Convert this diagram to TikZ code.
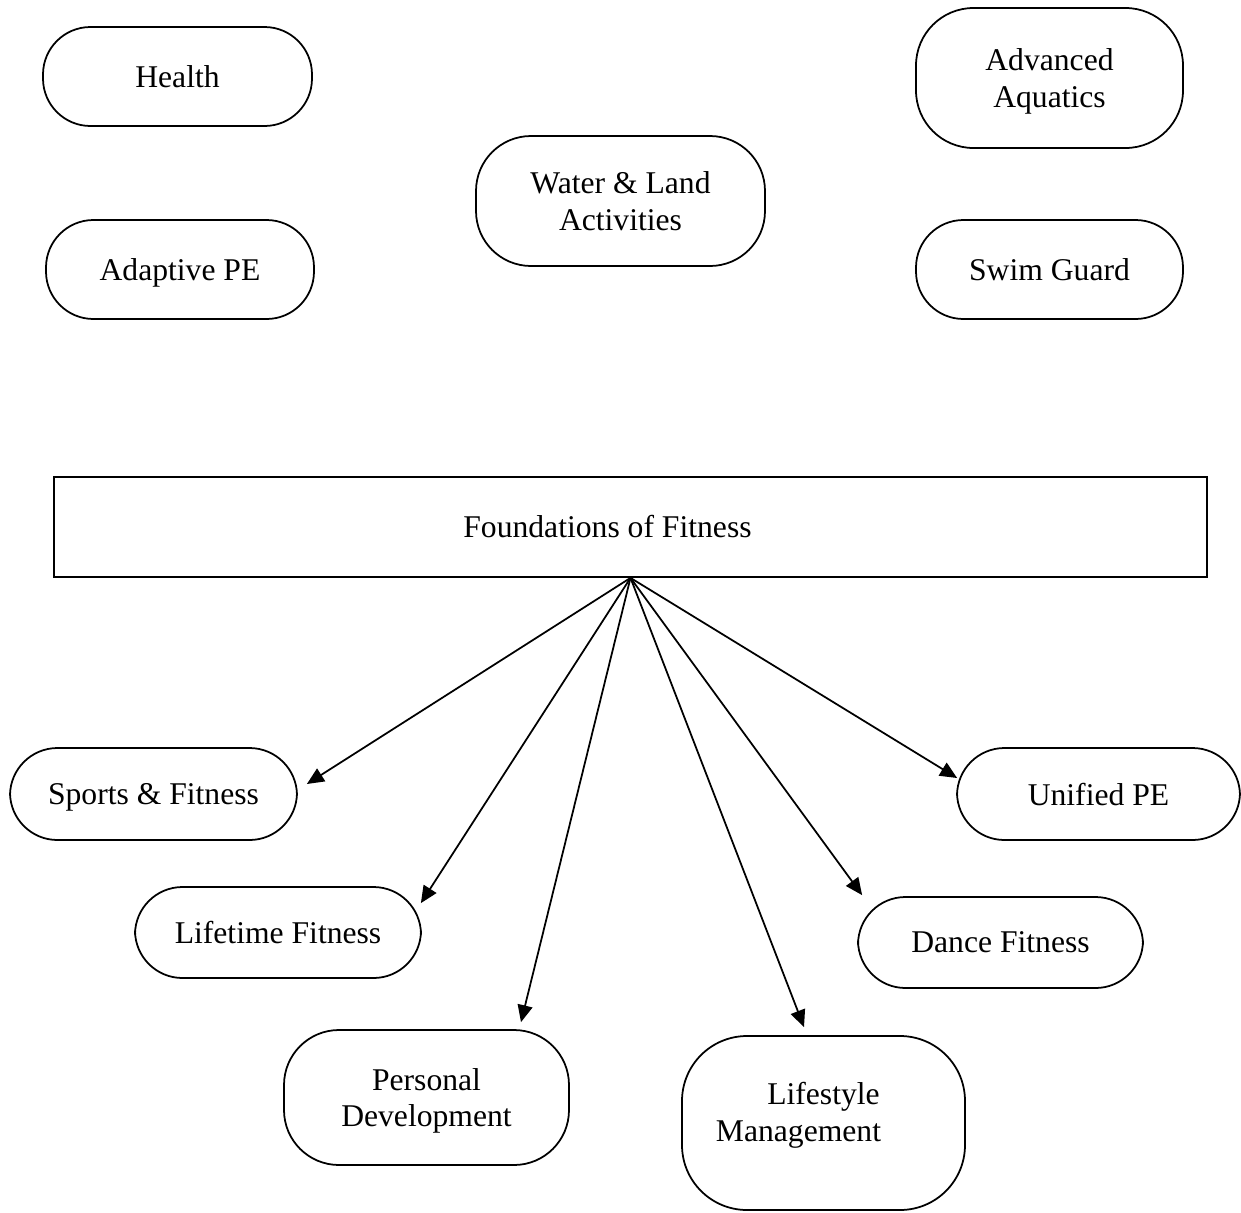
\documentclass[tikz,border=0pt]{standalone}
\usepackage{fontspec}
\setmainfont{Liberation Serif}
\usetikzlibrary{arrows.meta, calc}

\begin{document}
\begin{tikzpicture}[
		font=\fontsize{18}{21}\selectfont,
		% Style for the rounded course boxes
		course/.style={
			draw, line width=1pt, rounded corners=0.95cm,
			align=center, inner sep=2pt, text depth=0pt,
			minimum width=5.4cm, minimum height=1.98cm
		},
		% Style for the core course
		core/.style={draw, line width=1pt, minimum width=23.06cm, minimum height=2cm},
		% Arrows out of the core course
		link/.style={line width=1pt, -{Triangle[length=0.34cm, width=0.3cm]}}
		]
		\useasboundingbox (0,0) rectangle (24.82,-24.24);

		% Upper courses
		\node[course, minimum width=5.38cm] (health) at (3.55,-1.53) {Health};
		\node[course, minimum width=5.36cm] (adaptive) at (3.60,-5.39) {Adaptive PE};
		\node[course, minimum width=5.78cm, minimum height=2.6cm, rounded corners=1.1cm] (waterland) at (12.41,-4.02) {Water \& Land\\Activities};
		\node[course, minimum width=5.34cm, minimum height=2.8cm, rounded corners=1.15cm] (aquatics) at (20.99,-1.56) {Advanced\\Aquatics};
		\node[course, minimum width=5.34cm] (swimguard) at (20.99,-5.39) {Swim Guard};

		% Core course
		\node[core] (fof) at (12.61,-10.54) {Foundations of Fitness\hspace*{0.92cm}};

		% Lower courses
		\node[course, minimum width=5.74cm, minimum height=1.84cm] (sports) at (3.07,-15.88) {Sports \& Fitness};
		\node[course, minimum width=5.66cm, minimum height=1.84cm] (unified) at (21.97,-15.88) {Unified PE};
		\node[course, minimum width=5.72cm, minimum height=1.82cm] (lifetime) at (5.56,-18.65) {Lifetime Fitness};
		\node[course, minimum width=5.70cm, minimum height=1.82cm] (dance) at (20.01,-18.85) {Dance Fitness};
		\node[course, minimum width=5.70cm, minimum height=2.7cm, rounded corners=1.1cm] (personal) at (8.53,-21.95) {Personal\\Development};
		\node[course, minimum width=5.66cm, minimum height=3.48cm, rounded corners=1.3cm, text depth=0.46cm] (lifestyle) at (16.47,-22.46) {Lifestyle\\Management\hspace*{1cm}};

		% Links from the core course
		\draw[link] (fof.south) -- ($(sports.east)+(0.18,0.20)$);
		\draw[link] (fof.south) -- ($(lifetime.north east)+(-0.02,-0.34)$);
		\draw[link] (fof.south) -- ($(personal.north)+(1.89,0.14)$);
		\draw[link] (fof.south) -- ($(lifestyle.north)+(-0.39,0.16)$);
		\draw[link] (fof.south) -- ($(dance.north west)+(0.10,0.02)$);
		\draw[link] (fof.south) -- ($(unified.west)+(0.02,0.32)$);
	\end{tikzpicture}
\end{document}
